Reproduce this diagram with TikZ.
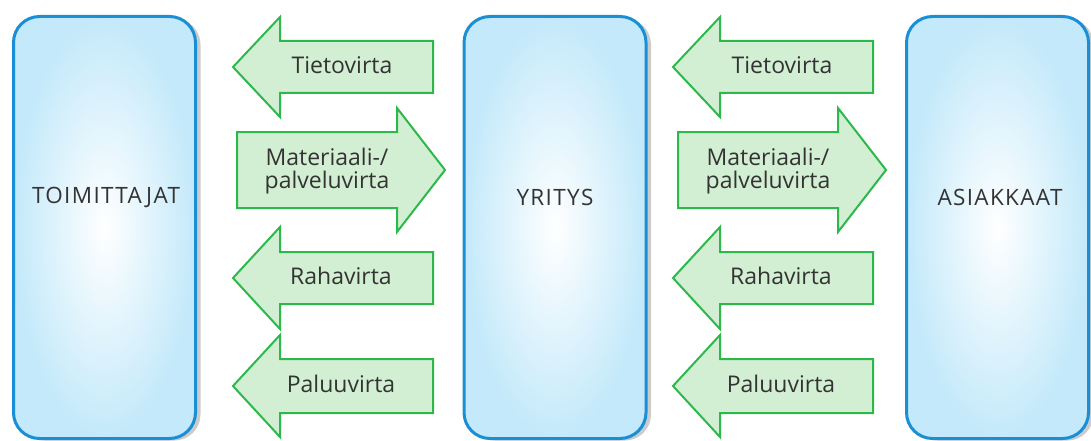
\documentclass[tikz,border=0pt]{standalone}
\usepackage{fontspec}
\setmainfont{Open Sans}
\newfontfamily\capsfont[LetterSpace=6]{Open Sans}
\usetikzlibrary{shadows}
\definecolor{boxblue}{HTML}{C3E9FA}
\definecolor{boxline}{HTML}{1A8FD5}
\definecolor{arrfill}{HTML}{D3EFD3}
\definecolor{arrline}{HTML}{2DB84C}
\definecolor{txt}{HTML}{333333}
\tikzset{
  party/.style={draw=boxline, line width=3pt, rounded corners=26pt,
    inner color=white, outer color=boxblue,
    minimum width=182pt, minimum height=422pt, inner sep=0pt,
    drop shadow={shadow xshift=5pt, shadow yshift=-2pt, opacity=0.2, fill=black}},
  partytext/.style={text=txt, font=\capsfont\fontsize{22.5}{26}\selectfont, inner sep=0pt},
  flow/.style={draw=arrline, line width=2pt, fill=arrfill, line join=miter},
  flowtext/.style={text=txt, font=\fontsize{23}{26}\selectfont, align=center, inner sep=0pt}
}
% flow arrows: #1 name, #2 x offset, #3 centre y, #4 shaft half height, #5 head half height
\newcommand\flowleft[5]{%
  \draw[flow] ({233+#2},{#3}) coordinate (#1-tip) -- ({280+#2},{#3-#5}) -- ({280+#2},{#3-#4})
    -- ({433+#2},{#3-#4}) -- ({433+#2},{#3+#4}) -- ({280+#2},{#3+#4}) -- ({280+#2},{#3+#5}) -- cycle;}
\newcommand\flowright[5]{%
  \draw[flow] ({445+#2},{#3}) coordinate (#1-tip) -- ({397+#2},{#3-#5}) -- ({397+#2},{#3-#4})
    -- ({237+#2},{#3-#4}) -- ({237+#2},{#3+#4}) -- ({397+#2},{#3+#4}) -- ({397+#2},{#3+#5}) -- cycle;}
\begin{document}
\begin{tikzpicture}[x=1pt,y=-1pt]
\useasboundingbox (0,0) rectangle (1091,441);
% parties
\node[party] (toim) at (104.5,227.5) {};
\node[party] (yri)  at (555,227.5) {};
\node[party] (asi)  at (997.5,227.5) {};
\node[partytext] (toimt) at (106,197) {TOIMITTAJAT};
\node[partytext] (yrit)  at (555,197) {YRITYS};
\node[partytext] (asit)  at (1000,197) {ASIAKKAAT};
% left column flows
\flowleft{a1}{0}{67}{26}{50}
\flowright{a2}{0}{170}{38}{62}
\flowleft{a3}{0}{278}{26}{51}
\flowleft{a4}{0}{386}{27}{51}
\node[flowtext] (t1) at (342,65) {Tietovirta};
\node[flowtext] (t2) at (327,171) {Materiaali-/\\[-3pt]palveluvirta};
\node[flowtext] (t3) at (341,276) {Rahavirta};
\node[flowtext] (t4) at (341,384) {Paluuvirta};
% right column flows
\flowleft{b1}{440}{67}{26}{50}
\flowright{b2}{441}{170}{38}{62}
\flowleft{b3}{440}{278}{26}{51}
\flowleft{b4}{440}{386}{27}{51}
\node[flowtext] (u1) at (782,65) {Tietovirta};
\node[flowtext] (u2) at (768,171) {Materiaali-/\\[-3pt]palveluvirta};
\node[flowtext] (u3) at (781,276) {Rahavirta};
\node[flowtext] (u4) at (781,384) {Paluuvirta};
\end{tikzpicture}
\end{document}
